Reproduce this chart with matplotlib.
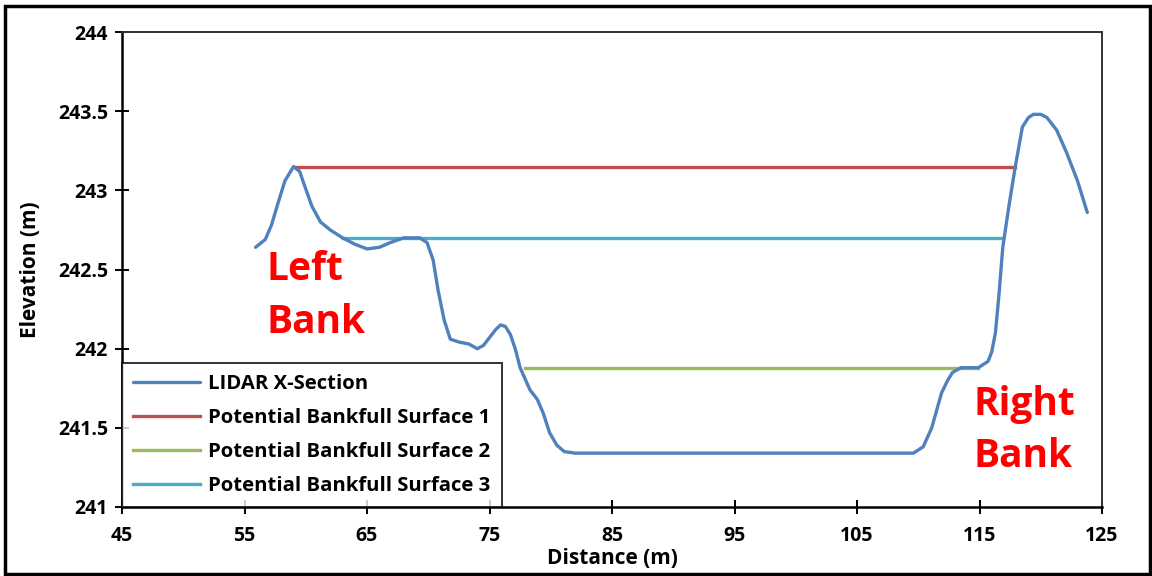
import matplotlib.pyplot as plt
from matplotlib.patches import Rectangle

# LIDAR cross-section profile (distance m, elevation m)
dist = [55.9, 56.7, 57.2, 57.7, 58.3, 59.0, 59.5, 59.9, 60.5, 61.2, 62.0, 63.0,
        64.0, 65.0, 66.0, 66.9, 68.0, 68.5, 69.3, 69.9, 70.4, 70.8, 71.3, 71.8,
        72.6, 73.3, 74.0, 74.5, 75.0, 75.5, 75.9, 76.3, 76.7, 77.1, 77.5, 78.3,
        78.9, 79.4, 79.9, 80.5, 81.1, 82.0, 95.0, 108.5, 109.6, 110.4, 111.1,
        111.9, 112.4, 112.8, 113.5, 114.9, 115.7, 116.0, 116.3, 116.6, 116.9,
        117.4, 117.9, 118.5, 119.0, 119.4, 120.0, 120.5, 121.3, 122.1, 123.0, 123.8]
elev = [242.64, 242.69, 242.78, 242.91, 243.06, 243.15, 243.12, 243.03, 242.90,
        242.80, 242.75, 242.70, 242.66, 242.63, 242.64, 242.67, 242.70, 242.70,
        242.70, 242.67, 242.56, 242.37, 242.18, 242.06, 242.04, 242.03, 242.00,
        242.02, 242.07, 242.12, 242.15, 242.14, 242.09, 242.00, 241.88, 241.74,
        241.68, 241.59, 241.47, 241.39, 241.35, 241.34, 241.34, 241.34, 241.34,
        241.38, 241.50, 241.72, 241.80, 241.85, 241.88, 241.88, 241.92, 241.98,
        242.10, 242.35, 242.64, 242.90, 243.14, 243.40, 243.46, 243.48, 243.48,
        243.46, 243.38, 243.24, 243.06, 242.86]

# candidate bankfull surfaces: (start, end, elevation)
surf1 = (59.0, 117.9, 243.15)
surf2 = (77.9, 114.9, 241.88)
surf3 = (63.0, 116.9, 242.70)

x_ticks = [45, 55, 65, 75, 85, 95, 105, 115, 125]
y_ticks = [241, 241.5, 242, 242.5, 243, 243.5, 244]
y_tick_labels = ['241', '241.5', '242', '242.5', '243', '243.5', '244']

plt.rcParams['font.family'] = ['Open Sans', 'DejaVu Sans']
plt.rcParams['font.weight'] = 'bold'

fig = plt.figure(figsize=(11.52, 5.76), dpi=100)
ax = fig.add_axes([122 / 1152, 1 - 507 / 576, 980 / 1152, 475 / 576])

ax.plot(dist, elev, color='#4F81BD', lw=2.4, solid_joinstyle='round',
        solid_capstyle='round', label='LIDAR X-Section', zorder=3)
ax.plot(surf1[:2], [surf1[2]] * 2, color='#C0504D', lw=2.4,
        label='Potential Bankfull Surface 1', zorder=2)
ax.plot(surf2[:2], [surf2[2]] * 2, color='#9BBB59', lw=2.4,
        label='Potential Bankfull Surface 2', zorder=2)
ax.plot(surf3[:2], [surf3[2]] * 2, color='#4BACC6', lw=2.4,
        label='Potential Bankfull Surface 3', zorder=2)

ax.set_xlim(45, 125)
ax.set_ylim(241, 244)
ax.set_xticks(x_ticks)
ax.set_yticks(y_ticks)
ax.set_yticklabels(y_tick_labels)
ax.tick_params(direction='inout', length=10, width=1.4, labelsize=14,
               colors='black', pad=5)
ax.tick_params(axis='x', pad=9)
for lab in ax.get_xticklabels() + ax.get_yticklabels():
    lab.set_fontweight('bold')

for side in ['left', 'bottom']:
    ax.spines[side].set_linewidth(1.8)
    ax.spines[side].set_color('black')
for side in ['top', 'right']:
    ax.spines[side].set_linewidth(1.4)
    ax.spines[side].set_color('#333333')

ax.set_xlabel('Distance (m)', fontsize=15, fontweight='bold', labelpad=1)
ax.set_ylabel('Elevation (m)', fontsize=15, fontweight='bold', labelpad=12)

ax.text(56.8, 242.62, 'Left\nBank', color='#FF0000', fontsize=28,
        fontweight='bold', va='top', ha='left', linespacing=1.45)
ax.text(114.5, 241.77, 'Right\nBank', color='#FF0000', fontsize=28,
        fontweight='bold', va='top', ha='left', linespacing=1.43)

leg = ax.legend(loc='lower left', bbox_to_anchor=(0, 0), fontsize=14.6,
                frameon=True, fancybox=False, edgecolor='black',
                borderaxespad=0, handlelength=3.3, handletextpad=0.4,
                labelspacing=0.68, borderpad=0.55)
leg.get_frame().set_linewidth(1.4)
for t in leg.get_texts():
    t.set_fontweight('bold')

# outer border round the whole figure
fig.patches.append(Rectangle((0.004, 0.003), 0.994, 0.987, transform=fig.transFigure,
                             fill=False, edgecolor='black', lw=2.5))

fig.savefig('out.png', dpi=100)
